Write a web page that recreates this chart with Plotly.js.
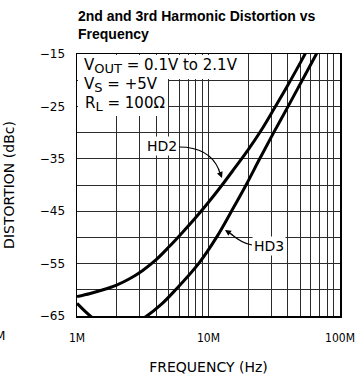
<!DOCTYPE html>
<html>
<head>
<meta charset="utf-8">
<script src="https://cdn.plot.ly/plotly-3.0.1.min.js"></script>
<style>html,body{margin:0;padding:0;background:#fff;}#chart{width:356px;height:381px;}</style>
</head>
<body>
<div id="chart"></div>
<script>
// ---- data ----
const hd2Freq = [1e6, 1.26e6, 1.58e6, 2e6, 2.51e6, 3.16e6, 3.98e6, 5.01e6, 6.31e6, 7.94e6, 1e7, 1.26e7, 1.58e7, 2e7, 2.51e7, 3.16e7, 3.98e7, 5.01e7, 6.31e7];
const hd2Db   = [-61.3, -60.7, -60.0, -59.1, -57.9, -56.3, -54.3, -51.8, -49.1, -46.3, -43.3, -40.1, -36.8, -33.3, -29.6, -25.4, -21.1, -16.6, -11.9];

const hd3Freq = [1e6, 1.26e6, 1.58e6, 2e6, 2.51e6, 3.39e6, 4.37e6, 5.62e6, 8.41e6, 1.15e7, 1.496e7, 1.93e7, 2.45e7, 3.13e7, 4.03e7, 5.16e7, 6.61e7, 7.4e7];
const hd3Db   = [-62.6, -65, -66.8, -67.3, -66.8, -65, -62.8, -60, -55, -50, -45, -40, -35, -30, -25, -20, -15, -12.6];

const xTickVals = [1e6,2e6,3e6,4e6,5e6,6e6,7e6,8e6,9e6,1e7,2e7,3e7,4e7,5e7,6e7,7e7,8e7,9e7,1e8];
const xTickText = ["1M","","","","","","","","","10M","","","","","","","","","100M"];
const yTickVals = [-65,-60,-55,-50,-45,-40,-35,-30,-25,-20,-15];
const yTickText = ["\u221265","","\u221255","","\u221245","","\u221235","","\u221225","","\u221215"];

const titleText = "<b>2nd and 3rd Harmonic Distortion vs<br>Frequency</b>";
const xTitle = "FREQUENCY (Hz)";
const yTitle = "DISTORTION (dBc)";
const condLines = [
  "V<sub><span style='font-size:13px'>OUT</span></sub> = 0.1V to 2.1V",
  "V<sub><span style='font-size:13px'>S</span></sub> = +5V",
  "R<sub><span style='font-size:13px'>L</span></sub> = 100\u03A9"
];
const seriesNames = ["HD2", "HD3"];

// ---- layout helpers (pixel -> paper) ----
const W = 356, H = 381, ML = 77, MR = 16, MT = 54, MB = 65;
const PW = W - ML - MR, PH = H - MT - MB;
const px = v => (v - ML) / PW;
const py = v => (H - MB - v) / PH;
const F = "DejaVu Sans, Verdana, sans-serif";
const FC = "DejaVu Sans Condensed, DejaVu Sans, sans-serif";

const traces = [
  {x: hd2Freq, y: hd2Db, name: seriesNames[0], mode: "lines", line: {color: "#000", width: 3, shape: "spline", smoothing: 1}, hoverinfo: "skip"},
  {x: hd3Freq, y: hd3Db, name: seriesNames[1], mode: "lines", line: {color: "#000", width: 3, shape: "spline", smoothing: 1}, hoverinfo: "skip"}
];

const layout = {
  width: W, height: H,
  margin: {l: ML, r: MR, t: MT, b: MB, pad: 0},
  paper_bgcolor: "#fff", plot_bgcolor: "#fff",
  showlegend: false,
  title: {text: titleText, font: {family: "Liberation Sans, Arial, sans-serif", size: 14, color: "#000"},
          xref: "container", yref: "container", x: 78 / W, xanchor: "left", y: 1 - 21 / H, yanchor: "top"},
  xaxis: {
    type: "log", range: [6 - 1e-6, 8 + 1e-6], tickmode: "array", tickvals: xTickVals, ticktext: xTickText,
    showgrid: true, gridcolor: "#2b2b2b", gridwidth: 1, zeroline: false,
    showline: true, mirror: true, linecolor: "#000", linewidth: 1.5, ticks: "",
    tickfont: {family: FC, size: 12, color: "#000"}, ticklabelstandoff: 10, ticklabeloverflow: "allow",
    title: {text: xTitle, font: {family: F, size: 14, color: "#000"}, standoff: 18},
    automargin: false, fixedrange: true
  },
  yaxis: {
    range: [-65, -15], tickmode: "array", tickvals: yTickVals, ticktext: yTickText,
    showgrid: true, gridcolor: "#2b2b2b", gridwidth: 1, zeroline: false,
    showline: true, mirror: true, linecolor: "#000", linewidth: 1.5, ticks: "",
    tickfont: {family: F, size: 12, color: "#000"}, ticklabelstandoff: 8,
    title: {text: yTitle, font: {family: F, size: 14, color: "#000"}, standoff: 22},
    automargin: false, fixedrange: true
  },
  shapes: [
    {type: "rect", xref: "paper", yref: "paper", x0: 1 / PW, x1: px(247), y0: py(79), y1: 1 - 1 / PH, fillcolor: "#fff", line: {width: 0}, layer: "above"},
    {type: "rect", xref: "paper", yref: "paper", x0: 1 / PW, x1: px(168), y0: py(116), y1: 1 - 1 / PH, fillcolor: "#fff", line: {width: 0}, layer: "above"},
    {type: "path", xref: "paper", yref: "paper",
     path: `M ${px(179)} ${py(147)} C ${px(196)} ${py(147)}, ${px(212)} ${py(153)}, ${px(219)} ${py(170)}`,
     line: {color: "#000", width: 1.2}, layer: "above"},
    {type: "path", xref: "paper", yref: "paper",
     path: `M ${px(252)} ${py(245)} C ${px(244)} ${py(244)}, ${px(237)} ${py(239)}, ${px(231)} ${py(234)}`,
     line: {color: "#000", width: 1.2}, layer: "above"}
  ],
  annotations: [
    {xref: "paper", yref: "paper", x: px(82), y: py(66), xanchor: "left", yanchor: "middle", text: condLines[0], showarrow: false, font: {family: F, size: 15, color: "#000"}},
    {xref: "paper", yref: "paper", x: px(82), y: py(84.5), xanchor: "left", yanchor: "middle", text: condLines[1], showarrow: false, font: {family: F, size: 15, color: "#000"}},
    {xref: "paper", yref: "paper", x: px(83), y: py(103.5), xanchor: "left", yanchor: "middle", text: condLines[2], showarrow: false, font: {family: F, size: 15, color: "#000"}},
    {xref: "paper", yref: "paper", x: px(162), y: py(146), xanchor: "center", yanchor: "middle", text: seriesNames[0], showarrow: false, bgcolor: "#fff", borderpad: 1, font: {family: F, size: 14, color: "#000"}},
    {xref: "paper", yref: "paper", x: px(269), y: py(246), xanchor: "center", yanchor: "middle", text: seriesNames[1], showarrow: false, bgcolor: "#fff", borderpad: 1, font: {family: F, size: 14, color: "#000"}},
    {xref: "paper", yref: "paper", x: px(222), y: py(178), text: "", showarrow: true, arrowhead: 2, arrowsize: 1, arrowwidth: 1.2, arrowcolor: "#000", ax: -4, ay: -10, standoff: 0},
    {xref: "paper", yref: "paper", x: px(225), y: py(230), text: "", showarrow: true, arrowhead: 2, arrowsize: 1, arrowwidth: 1.2, arrowcolor: "#000", ax: 9, ay: 6, standoff: 0},
    {xref: "paper", yref: "paper", x: px(7), y: py(336), xanchor: "right", yanchor: "middle", text: "M", showarrow: false, font: {family: F, size: 12, color: "#000"}}
  ]
};

Plotly.newPlot("chart", traces, layout, {displayModeBar: false, staticPlot: true});
</script>
</body>
</html>
